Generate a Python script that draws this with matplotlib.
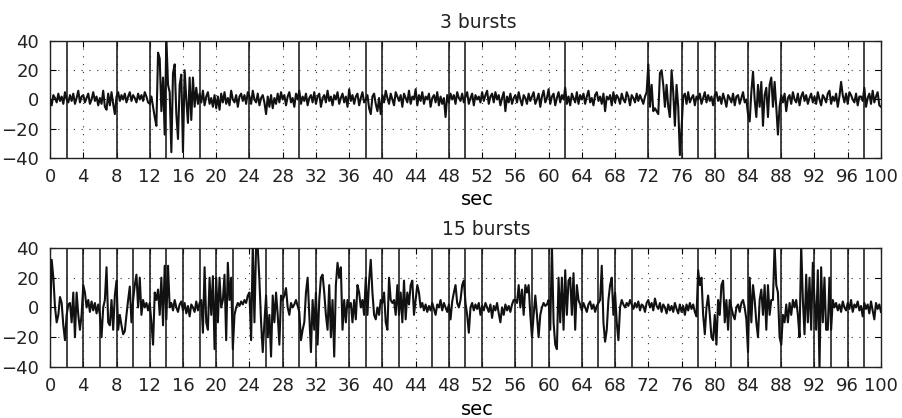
import numpy as np
import matplotlib.pyplot as plt

# signal values, one row = 4 s (0.2 s steps)
top_sig = [
    0, -4, 3, 1, -2, 4, -1, 2, -3, 5, 0, -2, 3, -1, 4, -3, 1, 6, -2, 2,
    3, -2, 1, 4, -3, 0, 5, -1, 2, -4, 1, -3, 6, -5, -7, 4, -4, 5, -3, -10,
    2, 5, -1, 3, 0, 4, -2, 2, 5, -1, 3, 1, -2, 4, 0, 3, -1, 5, 2, -2,
    -3, 2, -5, -12, -18, 32, 28, -8, 15, -24, 42, 10, 5, -36, 18, 24, -10, -27, 10, 17,
    -36, 20, 0, -16, 15, -14, 15, -5, 8, -3, 4, -2, 6, -4, 2, 5, -3, 1, -5, 3,
    -6, 2, -7, 4, -2, 5, -3, 1, -4, 6, 0, -2, 3, -5, 2, 4, -1, 3, -3, 5,
    2, -3, 6, 0, -2, 4, -4, 1, 3, -2, -10, 2, -5, 3, -6, 1, -3, 4, -2, 5,
    0, 3, -4, 2, 5, -2, 1, -5, 4, 0, 6, -3, 2, -1, 4, -4, 1, 3, -2, 5,
    -3, 2, 4, -5, 1, 3, -2, 6, -1, 2, -4, 3, 0, 5, -3, 1, 4, -2, 2, -5,
    7, -1, 3, -3, 2, 4, -4, 1, 5, -2, 0, 3, -6, -10, 2, 4, -3, -8, 1, -10,
    3, -2, 6, 1, -3, 4, 0, -4, 5, 2, -1, 3, -5, 4, 1, -2, 6, -3, 2, 0,
    7, -4, 3, -1, 5, -3, 2, 0, 4, -5, 1, 3, -2, 5, -4, 2, -3, 1, -12, 3,
    -2, 4, 0, 3, -3, 5, 1, -1, 4, -2, 2, 5, -3, 1, 4, -4, 3, 0, 2, -2,
    5, -1, 3, 6, -3, 2, 4, -2, 5, 0, 3, -4, 1, 5, -8, 2, -2, 4, -3, 1,
    3, -2, 5, 0, -4, 3, 1, -3, 4, -1, 2, 5, -3, 0, 4, -5, 2, 6, -2, 1,
    7, -3, 2, 4, -4, 1, 5, -2, 3, 0, 8, -3, 2, -4, 4, 1, -2, 5, -3, 3,
    0, 4, -3, 2, 6, -2, 1, -4, 3, 5, -1, 2, -3, 4, -8, 2, 0, 3, -4, 5,
    -2, 3, 1, -3, 4, 0, -2, 5, 2, -4, 3, 1, -2, 4, -1, 3, 0, -3, 2, 5,
    24, -5, 10, -8, -6, -8, -10, 18, 20, 10, -5, 10, -5, -12, 20, 5, -18, 10, -5, -38,
    -20, 2, 4, -3, 5, -2, 1, 3, -4, 2, 0, 4, -3, 1, 5, -2, 3, -1, 2, -4,
    3, 5, -1, 2, -3, 4, 0, -5, 3, 1, -2, 4, -4, 2, 3, -3, 1, 5, -2, 0,
    -10, -15, 5, 19, 0, -12, 10, -5, 12, -18, 3, 8, -12, 10, 15, -5, 12, -5, -24, -5,
    3, -2, 4, -8, 1, 3, -3, 5, 0, -2, 4, -4, 2, 5, -1, 3, -3, 1, 4, -2,
    2, -3, 5, 0, -4, 3, 1, -2, 4, 6, -3, 2, -1, 4, -5, 2, 12, 3, -2, 4,
    -3, 5, 3, 0, -2, 4, -4, 2, 2, -1, 8, -5, 1, 4, -3, 6, -2, 2, 5, -4,
    -5,
]

bottom_sig = [
    -12, 32, 20, 0, -10, -5, 7, 3, -12, -22, -5, 2, 3, -10, 10, -20, 10, -5, -15, -5,
    15, 10, 0, 5, -3, 4, -2, 3, -4, 2, -5, -20, 0, 5, 27, -10, -12, 5, -15, 8,
    18, -15, -5, -12, -18, -16, -5, 5, 14, -10, 5, 15, 22, 0, 20, -5, 5, 0, 3, -2,
    3, -10, -25, 10, 5, 12, -5, 20, -12, 28, -8, 28, 0, 3, -2, 5, 0, -3, 2, 4,
    -2, 3, -4, 1, -6, 2, 0, -3, 4, -2, 3, 5, -17, 27, -10, -15, 20, -5, 21, -28,
    20, -10, 20, 0, 5, 22, -22, 30, 5, 20, -28, -5, 0, 3, 1, 4, 2, 5, 3, 8,
    10, -22, 42, -10, 42, 40, 18, -10, -30, -10, 8, -20, -5, -33, 8, -10, 10, -5, -25, 8,
    5, 8, 13, 0, -5, 3, 0, 2, 5, 1, -3, -22, -15, -10, 10, 20, -5, -30, 5, -15,
    10, -25, 5, 20, 22, 10, -5, -15, 15, -20, 5, -33, 15, 30, 20, 27, -15, 5, -10, 5,
    0, 3, -10, 5, -8, 15, 10, 0, 5, -5, 20, -5, 18, 32, 10, -5, -8, 0, -5, 5,
    3, 10, -10, -15, 20, 5, 3, 5, -5, 15, -5, 10, -10, 18, -8, 10, 2, 15, 18, -5,
    5, 15, 10, 0, 3, -2, 2, -3, 1, -2, 3, -1, -5, 2, 0, 5, -2, 3, 0, -3,
    2, -8, 4, 10, 15, 3, 0, 5, 15, 18, 3, -5, -17, 0, 3, -2, 2, -1, 3, -5,
    1, -2, 3, 0, -3, 2, -7, 1, -2, 3, -4, -10, 0, -5, 2, -2, 1, -3, 2, 5,
    5, 3, 15, 0, 12, -5, 15, 10, 15, -5, -20, -5, 8, -5, -20, -5, 0, 3, 1, 2,
    5, -15, 42, -10, -25, -28, 20, -10, 20, -15, 25, -5, 18, 20, -5, 23, -15, 15, 5, 2,
    -2, 3, 0, -3, 2, 4, -1, 2, -3, 1, 3, 5, 28, -10, -23, -15, 5, 15, 20, -5,
    10, -10, -22, 0, 5, 2, 0, 3, 1, 5, 2, -1, 3, 0, 4, -2, 2, 1, -3, 3,
    5, 0, 3, -2, 6, 1, -1, 3, -3, 2, 0, -4, 2, -2, 1, -3, 3, -1, -4, 2,
    -3, 1, -5, 2, -2, 3, -1, 2, -3, -6, 25, 15, 20, -5, -18, 0, 8, -5, -20, -22,
    -5, -25, 5, -5, 15, 18, -10, 5, -15, 5, 0, -5, -8, 0, 2, -3, 3, 5, 0, -8,
    -30, 20, -10, 15, 5, -10, -20, 5, 12, -5, 15, -15, 15, -5, 5, 5, 42, 15, 10, -20,
    -25, -5, -10, 2, -10, 3, -5, 5, 0, 5, -5, -20, 42, 5, -18, 22, -10, 20, -15, 30,
    5, -15, 25, -42, 27, -10, 20, -15, -15, 20, -15, 5, 0, 3, -2, 2, -3, 4, 0, -2,
    3, -1, 5, -3, 2, 0, 4, -2, 1, -6, 3, -1, 2, -4, 4, -2, -8, 3, -1, 2,
    -3,
]

# burst marker times (sec)
top_marks = [2, 8, 12, 14, 18, 24, 30, 38, 40, 48, 50, 62, 72, 76, 78, 80, 84, 88, 98]
bottom_marks = [2, 4, 6, 8, 10, 12, 14, 16, 18, 20, 22, 26, 28, 30, 32, 36, 38, 40, 42,
                46, 48, 50, 52, 56, 58, 60, 64, 66, 68, 70, 78, 82, 84, 88, 92, 94, 96, 98]

titles = ['3 bursts', '15 bursts']
xticks = list(range(0, 101, 4))
yticks = [-40, -20, 0, 20, 40]

plt.rcParams['font.family'] = 'DejaVu Sans'
plt.rcParams['text.color'] = '#222222'

fig = plt.figure(figsize=(9.03, 4.18), dpi=100)
ax_top = fig.add_axes([0.0554, 0.622, 0.9202, 0.280])
ax_bot = fig.add_axes([0.0554, 0.122, 0.9202, 0.285])

panels = [(ax_top, top_sig, top_marks, titles[0], 0.516),
          (ax_bot, bottom_sig, bottom_marks, titles[1], 0.525)]

for ax, sig, marks, title, tx in panels:
    t = np.linspace(0, 100, len(sig))
    for m in marks:
        ax.axvline(m, color='#222222', lw=1.2, zorder=2)
    ax.plot(t, sig, color='#111111', lw=1.5, zorder=3)

    ax.set_xlim(0, 100)
    ax.set_ylim(-40, 40)
    ax.set_xticks(xticks)
    ax.set_yticks(yticks)
    ax.grid(True, color='#333333', linestyle=(0, (1, 6)), lw=0.8, zorder=1)
    ax.tick_params(direction='in', length=4, width=0.8, top=True, right=True,
                   labelsize=13, labelcolor='#222222')
    ax.tick_params(axis='x', pad=7.5)
    ax.tick_params(axis='y', pad=8)
    for sp in ax.spines.values():
        sp.set_linewidth(1.0)
        sp.set_color('#222222')
    ax.set_title(title, fontsize=13.5, x=tx, pad=9.5)
    ax.set_xlabel('sec', fontsize=14)
    ax.xaxis.label.set_va('baseline')
    ax.xaxis.set_label_coords(0.514, -0.404)

fig.savefig('out.png', dpi=100)
